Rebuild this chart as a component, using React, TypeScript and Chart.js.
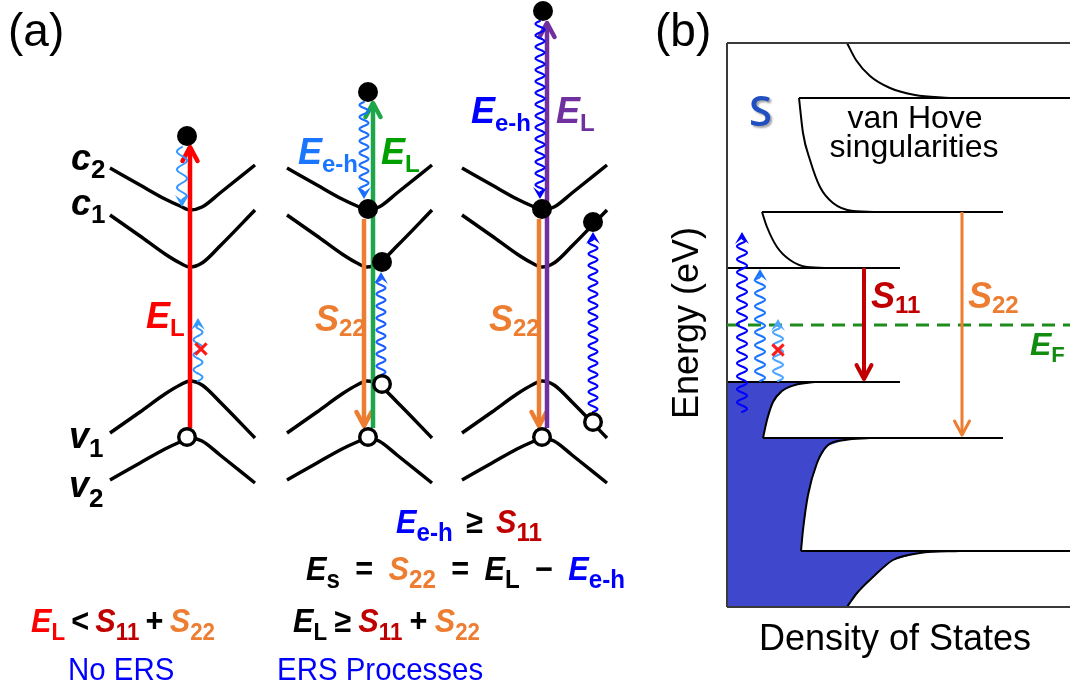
import { useEffect, useRef } from 'react';
import { Chart, registerables } from 'chart.js';

Chart.register(...registerables);

type Pt = [number, number];

// ---------------- DATA (x to the right, y downward) ----------------
// Panel (a): band curves of the first set; the three sets repeat them with these offsets
const setOffsets = [0, 177, 352];
const bandC2: Pt[] = [[110, 168], [140, 185], [165, 199], [180, 206], [190, 210], [202, 207], [220, 193], [255, 165]];
const bandC1: Pt[] = [[110, 215], [140, 236], [165, 254], [180, 263], [190, 267], [202, 263], [220, 246], [255, 210]];
const bandV1: Pt[] = [[110, 433], [140, 412], [165, 394], [180, 385], [190, 381], [202, 385], [220, 402], [255, 438]];
const bandV2: Pt[] = [[110, 480], [140, 463], [165, 449], [180, 442], [190, 438], [202, 441], [220, 455], [255, 483]];

const electronPts: Pt[] = [[187, 136], [368, 92], [368, 209], [382, 262], [543, 11], [542, 209], [593, 222]];
const holePts: Pt[] = [[187, 437], [368, 437], [382, 384], [542, 437], [593, 422]];
const blockedPts: Pt[] = [[201, 349], [778, 350]];

// straight optical transitions: x, start, end (arrow tip)
const transX = [190, 373, 364, 547, 539, 864, 962];
const transFrom = [428, 428, 219, 428, 219, 268, 212];
const transTo = [147, 103, 426, 23, 426, 379, 435];

// wavy electron–hole transitions: x, start, end (arrow tip)
const waveX = [182, 198, 364, 381, 540, 593, 742, 760, 778];
const waveFrom = [147, 381, 102, 375, 21, 412, 412, 381, 381];
const waveTo = [207, 318, 199, 272, 199, 232, 232, 269, 319];

// Panel (b): density of states
const frameX = 727;
const frameTop = 43;
const frameBottom = 607;
const levelY = [98, 212, 268, 382, 438, 551];
const levelFrom = [799, 762, 727, 727, 763, 801];
const levelTo = [1070, 1003, 900, 900, 1003, 1070];
const borderY = [43, 607];
const fermiY = 325;
const dosCond: Pt[][] = [
  [[847, 43], [856, 60], [870, 76], [890, 88], [915, 95], [950, 98]],
  [[799, 98], [803, 133], [810, 160], [820, 187], [833, 203], [853, 211], [880, 212]],
  [[762, 212], [767, 227], [777, 247], [790, 260], [807, 267], [830, 268]],
];
const dosVal: Pt[][] = [
  [[815, 382], [795, 385], [782, 391], [773, 402], [767, 420], [763, 438]],
  [[870, 438], [845, 440], [827, 446], [817, 463], [808, 495], [803, 530], [801, 551]],
  [[960, 551], [920, 553], [893, 560], [873, 577], [857, 593], [847, 607]],
];

// ---------------- STYLES ----------------
const FAM = '"Liberation Sans", Arial, sans-serif';
const transStyle = [
  { c: '#ff0000', w: 4.5 },
  { c: '#1ea64b', w: 4.5 },
  { c: '#ed7d31', w: 4.5 },
  { c: '#7030a0', w: 4.5 },
  { c: '#ed7d31', w: 4.5 },
  { c: '#c00000', w: 4 },
  { c: '#ed7d31', w: 3 },
];
const waveStyle = [
  { color: '#3399ff', amp: 5, period: 18, width: 2 },
  { color: '#3399ff', amp: 4.5, period: 15, width: 2 },
  { color: '#1a6eff', amp: 4.5, period: 12, width: 2 },
  { color: '#1a5cff', amp: 4.5, period: 12, width: 2 },
  { color: '#0000ff', amp: 4.5, period: 11.5, width: 2 },
  { color: '#0000ff', amp: 4.5, period: 11.5, width: 2 },
  { color: '#0000ff', amp: 5, period: 13, width: 2 },
  { color: '#1a75ff', amp: 5, period: 13, width: 2 },
  { color: '#4da6ff', amp: 5, period: 13, width: 2 },
];

// run: [text, colour, kind]   kinds: M main (bold italic), S subscript, B operator, N normal, L semibold
type Run = [string, string, string];
type TextItem = {
  x: number; y: number; runs: Run[]; m: number; s?: number; d?: number; align?: string;
  rot?: boolean; shadow?: boolean; fam?: string; sq?: number; x1?: number;
};

const BLUE = '#0000ff';
const DRED = '#c00000';
const ORG = '#ed7d31';
const K = '#000';
const texts: TextItem[] = [
  { x: 8, y: 46, runs: [['(a)', K, 'N']], m: 46 },
  { x: 655, y: 46, runs: [['(b)', K, 'N']], m: 46 },
  { x: 71, y: 170, runs: [['c', K, 'M'], ['2', K, 'S']], m: 36, s: 26, d: 8 },
  { x: 71, y: 215, runs: [['c', K, 'M'], ['1', K, 'S']], m: 36, s: 26, d: 8 },
  { x: 69, y: 448, runs: [['v', K, 'M'], ['1', K, 'S']], m: 36, s: 26, d: 9 },
  { x: 69, y: 497, runs: [['v', K, 'M'], ['2', K, 'S']], m: 36, s: 26, d: 10 },
  { x: 146, y: 328, runs: [['E', '#ff0000', 'M'], ['L', '#ff0000', 'S']], m: 36, s: 24, d: 8 },
  { x: 298, y: 164, runs: [['E', '#1a75ff', 'M'], ['e-h', '#1a75ff', 'S']], m: 36, s: 24, d: 8 },
  { x: 381, y: 164, runs: [['E', '#00a000', 'M'], ['L', '#00a000', 'S']], m: 36, s: 24, d: 8 },
  { x: 315, y: 331, runs: [['S', ORG, 'M'], ['22', ORG, 'S']], m: 36, s: 24, d: 5 },
  { x: 471, y: 123, runs: [['E', BLUE, 'M'], ['e-h', BLUE, 'S']], m: 36, s: 24, d: 8 },
  { x: 556, y: 123, runs: [['E', '#7030a0', 'M'], ['L', '#7030a0', 'S']], m: 36, s: 24, d: 8 },
  { x: 489, y: 331, runs: [['S', ORG, 'M'], ['22', ORG, 'S']], m: 36, s: 24, d: 5 },
  {
    x: 396, x1: 542, y: 533, m: 33, s: 26, d: 8, sq: 0.93,
    runs: [['E', BLUE, 'M'], ['e-h', BLUE, 'S'], ['≥', K, 'B'], ['S', DRED, 'M'], ['11', DRED, 'S']],
  },
  {
    x: 306, x1: 625, y: 580, m: 33, s: 26, d: 8, sq: 0.93,
    runs: [['E', K, 'M'], ['s', K, 'S'], ['=', K, 'B'], ['S', ORG, 'M'], ['22', ORG, 'S'],
      ['=', K, 'B'], ['E', K, 'M'], ['L', K, 'S'], ['−', K, 'B'], ['E', BLUE, 'M'], ['e-h', BLUE, 'S']],
  },
  {
    x: 293, x1: 480, y: 632, m: 33, s: 24, d: 8, sq: 0.93,
    runs: [['E', K, 'M'], ['L', K, 'S'], ['≥', K, 'B'], ['S', DRED, 'M'], ['11', DRED, 'S'],
      ['+', K, 'B'], ['S', ORG, 'M'], ['22', ORG, 'S']],
  },
  {
    x: 31, x1: 215, y: 632, m: 33, s: 24, d: 8, sq: 0.93,
    runs: [['E', '#ff0000', 'M'], ['L', '#ff0000', 'S'], ['<', K, 'B'], ['S', DRED, 'M'], ['11', DRED, 'S'],
      ['+', K, 'B'], ['S', ORG, 'M'], ['22', ORG, 'S']],
  },
  { x: 68, y: 680, runs: [['No ERS', BLUE, 'N']], m: 32, sq: 0.92 },
  { x: 277, y: 680, runs: [['ERS Processes', BLUE, 'N']], m: 32, sq: 0.92 },
  { x: 749, y: 126, runs: [['S', '#1f4fc0', 'L']], m: 42, shadow: true, fam: '"Open Sans", "Liberation Sans", sans-serif' },
  { x: 915, y: 128, runs: [['van Hove', K, 'N']], m: 32, align: 'center' },
  { x: 914, y: 157, runs: [['singularities', K, 'N']], m: 32, align: 'center' },
  { x: 871, y: 308, runs: [['S', DRED, 'M'], ['11', DRED, 'S']], m: 36, s: 24, d: 5 },
  { x: 968, y: 308, runs: [['S', ORG, 'M'], ['22', ORG, 'S']], m: 36, s: 24, d: 5 },
  { x: 1030, y: 355, runs: [['E', '#118c11', 'M'], ['F', '#118c11', 'S']], m: 32, s: 22, d: 7 },
  { x: 698, y: 323, runs: [['Energy (eV)', K, 'N']], m: 36, align: 'center', rot: true },
  { x: 895, y: 650, runs: [['Density of States', K, 'N']], m: 36, align: 'center' },
];

// ---------------- drawing helpers ----------------
function fontFor(kind: string, m: number, s: number, fam: string) {
  const size = kind === 'S' ? s : m;
  if (kind === 'M') return `italic bold ${size}px ${fam}`;
  if (kind === 'S' || kind === 'B') return `bold ${size}px ${fam}`;
  if (kind === 'L') return `600 ${size}px ${fam}`;
  return `${size}px ${fam}`;
}

function drawWave(ctx: CanvasRenderingContext2D, x0: number, y0: number, x1: number, y1: number, w: any) {
  const dx = x1 - x0, dy = y1 - y0;
  const L = Math.hypot(dx, dy);
  if (L < 1) return;
  const ux = dx / L, uy = dy / L, nx = -uy, ny = ux;
  const headLen = 12, hw = 7;
  const end = L - headLen * 0.55;
  ctx.save();
  ctx.strokeStyle = w.color;
  ctx.fillStyle = w.color;
  ctx.lineWidth = w.width;
  ctx.lineJoin = 'round';
  ctx.lineCap = 'round';
  ctx.beginPath();
  for (let s = 0; s <= end; s += 0.5) {
    const env = Math.min(1, (end - s) / (w.period / 4));
    const a = w.amp * env * Math.sin((2 * Math.PI * s) / w.period);
    const px = x0 + ux * s + nx * a;
    const py = y0 + uy * s + ny * a;
    if (s === 0) ctx.moveTo(px, py);
    else ctx.lineTo(px, py);
  }
  ctx.stroke();
  const bx = x1 - ux * headLen, by = y1 - uy * headLen;
  ctx.beginPath();
  ctx.moveTo(x1, y1);
  ctx.lineTo(bx + nx * hw, by + ny * hw);
  ctx.lineTo(x1 - ux * headLen * 0.55, y1 - uy * headLen * 0.55);
  ctx.lineTo(bx - nx * hw, by - ny * hw);
  ctx.closePath();
  ctx.fill();
  ctx.restore();
}

function drawOpenHead(ctx: CanvasRenderingContext2D, x0: number, y0: number, x1: number, y1: number, color: string, width: number) {
  const dx = x1 - x0, dy = y1 - y0;
  const L = Math.hypot(dx, dy);
  if (L < 1) return;
  const ux = dx / L, uy = dy / L, nx = -uy, ny = ux;
  const len = 14, hw = 7.5;
  ctx.save();
  ctx.strokeStyle = color;
  ctx.lineWidth = width;
  ctx.lineJoin = 'round';
  ctx.lineCap = 'round';
  ctx.beginPath();
  ctx.moveTo(x1 - ux * len + nx * hw, y1 - uy * len + ny * hw);
  ctx.lineTo(x1, y1);
  ctx.lineTo(x1 - ux * len - nx * hw, y1 - uy * len - ny * hw);
  ctx.stroke();
  ctx.restore();
}

const decorPlugin = {
  id: 'decor',
  afterDatasetDraw(chart: any, args: any) {
    const ds = chart.data.datasets[args.index];
    const pts = args.meta.data;
    const ctx: CanvasRenderingContext2D = chart.ctx;
    if (ds.wave && pts.length >= 2) {
      drawWave(ctx, pts[0].x, pts[0].y, pts[1].x, pts[1].y, ds.wave);
    }
    if (ds.head && pts.length >= 2) {
      const a = pts[pts.length - 2], b = pts[pts.length - 1];
      drawOpenHead(ctx, a.x, a.y, b.x, b.y, ds.borderColor, ds.borderWidth);
    }
  },
  afterDraw(chart: any) {
    const ctx: CanvasRenderingContext2D = chart.ctx;
    const sx = chart.scales.x, sy = chart.scales.y;
    for (const t of texts) {
      const fam = t.fam || FAM;
      const m = t.m, s = t.s || m, d = t.d || 0, sq = t.sq || 1;
      ctx.save();
      ctx.textBaseline = 'alphabetic';
      ctx.textAlign = 'left';
      const widths = t.runs.map((r) => {
        ctx.font = fontFor(r[2], m, s, fam);
        return ctx.measureText(r[0]).width * sq;
      });
      const natural = widths.reduce((a, b) => a + b, 0);
      const px = sx.getPixelForValue(t.x), py = sy.getPixelForValue(t.y);
      // spread the remaining room evenly round the operators when a right edge is given
      let gap = 0;
      if (t.x1 !== undefined) {
        const nGaps = t.runs.filter((r) => r[2] === 'B').length * 2;
        gap = nGaps ? (sx.getPixelForValue(t.x1) - px - natural) / nGaps : 0;
      }
      if (t.shadow) {
        ctx.shadowColor = 'rgba(0,0,0,0.35)';
        ctx.shadowOffsetX = 2;
        ctx.shadowOffsetY = 2;
        ctx.shadowBlur = 2;
      }
      ctx.translate(px, py);
      if (t.rot) ctx.rotate(-Math.PI / 2);
      let cx = t.align === 'center' ? -natural / 2 : 0;
      t.runs.forEach((r, i) => {
        if (r[2] === 'B') cx += gap;
        ctx.font = fontFor(r[2], m, s, fam);
        ctx.fillStyle = r[1];
        ctx.save();
        ctx.translate(cx, r[2] === 'S' ? d : 0);
        ctx.scale(sq, 1);
        ctx.fillText(r[0], 0, 0);
        ctx.restore();
        cx += widths[i];
        if (r[2] === 'B') cx += gap;
      });
      ctx.restore();
    }
  },
};

const toXY = (p: Pt[], dx = 0) => p.map(([x, y]) => ({ x: x + dx, y }));

function buildDatasets() {
  const ds: any[] = [];
  // blue filled valence states
  const fillPoly: Pt[] = [[frameX, levelY[3]], ...dosVal[0], ...dosVal[1], ...dosVal[2], [frameX, frameBottom]];
  ds.push({ data: toXY(fillPoly), fill: 'shape', backgroundColor: '#3f48cc', borderWidth: 0, pointRadius: 0, order: 20 });
  // DOS level lines
  levelY.forEach((y, i) => {
    ds.push({ data: [{ x: levelFrom[i], y }, { x: levelTo[i], y }], borderColor: '#000', borderWidth: 2, pointRadius: 0, order: 15 });
  });
  borderY.forEach((y) => {
    ds.push({ data: [{ x: frameX, y }, { x: 1070, y }], borderColor: '#3a3a3a', borderWidth: 2, pointRadius: 0, order: 15 });
  });
  ds.push({ data: [{ x: frameX, y: frameTop }, { x: frameX, y: frameBottom }], borderColor: '#3a3a3a', borderWidth: 2, pointRadius: 0, order: 14 });
  [...dosCond, ...dosVal].forEach((c) => {
    ds.push({ data: toXY(c), borderColor: '#000', borderWidth: 2, pointRadius: 0, cubicInterpolationMode: 'monotone', order: 15 });
  });
  // Fermi level
  ds.push({ data: [{ x: frameX, y: fermiY }, { x: 1070, y: fermiY }], borderColor: '#1e8c1e', borderWidth: 3, borderDash: [13, 8], pointRadius: 0, order: 13 });
  // band curves
  setOffsets.forEach((off) => {
    [bandC2, bandC1, bandV1, bandV2].forEach((b) => {
      ds.push({ data: toXY(b, off), borderColor: '#000', borderWidth: 3.5, pointRadius: 0, cubicInterpolationMode: 'monotone', order: 12 });
    });
  });
  // straight transitions
  transX.forEach((x, i) => {
    ds.push({ data: [{ x, y: transFrom[i] }, { x, y: transTo[i] }], borderColor: transStyle[i].c, borderWidth: transStyle[i].w, pointRadius: 0, head: true, order: 8 });
  });
  // wavy transitions
  waveX.forEach((x, i) => {
    ds.push({ data: [{ x, y: waveFrom[i] }, { x, y: waveTo[i] }], showLine: false, pointRadius: 0, wave: waveStyle[i], order: 6 });
  });
  // electrons and holes
  ds.push({ data: toXY(electronPts), showLine: false, pointRadius: 10, pointBackgroundColor: '#000', pointBorderWidth: 0, order: 3 });
  ds.push({ data: toXY(holePts), showLine: false, pointRadius: 8.3, pointBackgroundColor: '#fff', pointBorderColor: '#000', pointBorderWidth: 3.4, order: 2 });
  // forbidden marks
  ds.push({ data: toXY(blockedPts), showLine: false, pointStyle: 'crossRot', pointRadius: 8, pointBorderColor: '#ff1a1a', pointBorderWidth: 3, order: 1 });
  return ds;
}

export default function App() {
  const ref = useRef<HTMLCanvasElement | null>(null);
  useEffect(() => {
    if (!ref.current) return;
    const chart = new Chart(ref.current, {
      type: 'line',
      data: { datasets: buildDatasets() },
      options: {
        animation: false,
        responsive: false,
        devicePixelRatio: 1,
        events: [],
        layout: { padding: 0, autoPadding: false },
        plugins: { legend: { display: false }, tooltip: { enabled: false }, title: { display: false } },
        scales: {
          x: { type: 'linear', min: 0, max: 1070, display: false },
          y: { type: 'linear', min: 0, max: 690, reverse: true, display: false },
        },
        elements: { line: { tension: 0, borderCapStyle: 'butt' }, point: { radius: 0 } },
      } as any,
      plugins: [decorPlugin as any],
    });
    return () => chart.destroy();
  }, []);
  return (
    <div style={{ position: 'fixed', left: 0, top: 0, width: 1070, height: 690, background: '#fff' }}>
      <canvas ref={ref} width={1070} height={690} style={{ display: 'block', width: 1070, height: 690 }} />
    </div>
  );
}
